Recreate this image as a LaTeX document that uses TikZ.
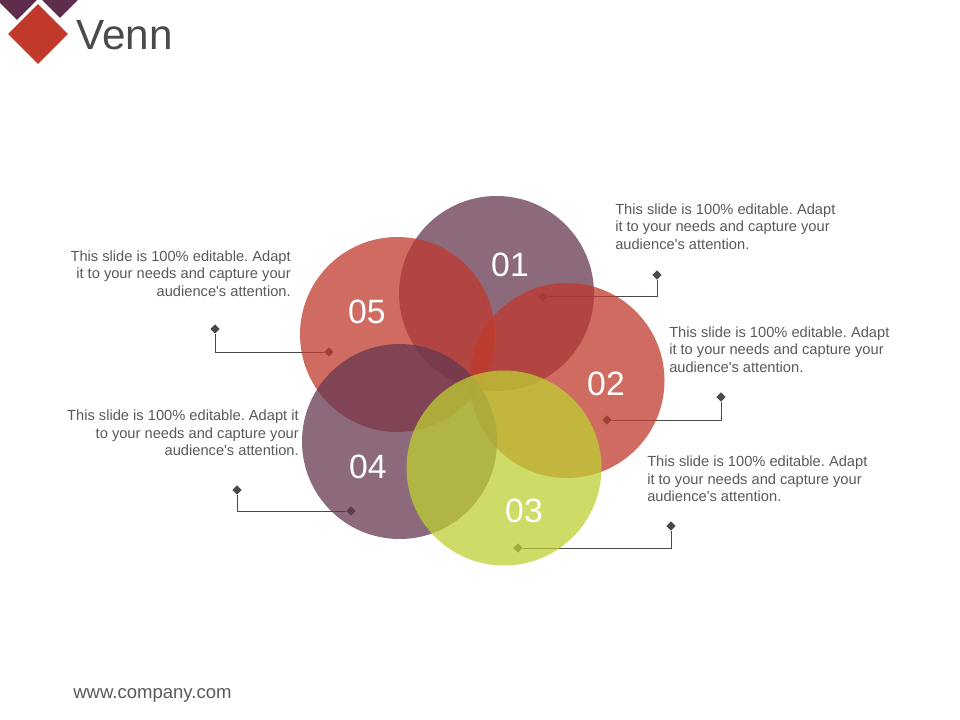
\documentclass[tikz,border=0pt]{standalone}
\usepackage{fontspec}
\setmainfont{Liberation Sans}
\usetikzlibrary{shapes.geometric}

\definecolor{plum}{HTML}{663850}
\definecolor{brick}{HTML}{C03A2E}
\definecolor{lime}{HTML}{BECF33}
\definecolor{ink}{HTML}{4A4A4A}
\definecolor{tipgray}{HTML}{4A4A4A}
\definecolor{blurbgray}{HTML}{595959}
\definecolor{logored}{HTML}{C0392B}
\definecolor{logoplum}{HTML}{5E2D4C}

\tikzset{
  petal/.style={
    circle,fill=#1,fill opacity=0.75,minimum size=146.25pt,inner sep=0pt,
  },
  num/.style={
    text=white,font=\fontsize{25.3}{25.3}\selectfont,inner sep=0pt,
  },
  blurb/.style={
    text=blurbgray,inner sep=0pt,font=\frenchspacing\fontsize{11}{13.1}\selectfont,
  },
  tip/.style={
    diamond,aspect=1,fill=tipgray,minimum size=7pt,inner sep=0pt,outer sep=0pt,
  },
  leader/.style={
    draw=ink,line width=0.75pt,
  },
  logo/.style={
    diamond,aspect=1,fill=#1,minimum size=45pt,inner sep=0pt,
  }
}

\begin{document}
\begin{tikzpicture}[x=0.75pt,y=-0.75pt]
    \useasboundingbox (0,0) rectangle (960,720);

    \node[logo=logoplum] (logoa) at (17,-10) {};
    \node[logo=logoplum] (logob) at (60,-12) {};
    \node[logo=logored,draw=white,line width=0.75pt,minimum size=46.5pt] (logoc) at (38,34) {};
    \node[anchor=west,inner sep=0pt,text=ink,font=\fontsize{31.7}{31.7}\selectfont] (title) at (76,35) {Venn};

    \node[tip] (in1)  at (543,297) {};
    \node[tip] (out1) at (657,275) {};
    \node[tip] (in2)  at (607,420) {};
    \node[tip] (out2) at (721,397) {};
    \node[tip] (in3)  at (518,548) {};
    \node[tip] (out3) at (671,526) {};
    \node[tip] (in4)  at (351,511) {};
    \node[tip] (out4) at (237,490) {};
    \node[tip] (in5)  at (329,352) {};
    \node[tip] (out5) at (215,329) {};

    \draw[leader] (in1) -| (out1);
    \draw[leader] (in2) -| (out2);
    \draw[leader] (in3) -| (out3);
    \draw[leader] (in4) -| (out4);
    \draw[leader] (in5) -| (out5);

    \node[petal=plum]  (c1) at (496.5,293.5) {};
    \node[petal=brick] (c5) at (397.5,334.5) {};
    \node[petal=brick] (c2) at (567,380.5) {};
    \node[petal=plum]  (c4) at (399.5,441.5) {};
    \node[petal=lime]  (c3) at (504,468) {};

    \node[num] (n1) at (510,265) {01};
    \node[num] (n2) at (606,384) {02};
    \node[num] (n3) at (524,511) {03};
    \node[num] (n4) at (368,467) {04};
    \node[num] (n5) at (367,312) {05};

    \node[blurb,anchor=west,align=left] (t1) at (615,226.5)
      {This slide is 100\% editable. Adapt\\it to your needs and capture your\\audience\textquotesingle s attention.};
    \node[blurb,anchor=west,align=left] (t2) at (669,349.5)
      {This slide is 100\% editable. Adapt\\it to your needs and capture your\\audience\textquotesingle s attention.};
    \node[blurb,anchor=west,align=left] (t3) at (647,479)
      {This slide is 100\% editable. Adapt\\it to your needs and capture your\\audience\textquotesingle s attention.};
    \node[blurb,anchor=east,align=right] (t4) at (299,433)
      {This slide is 100\% editable. Adapt it\\to your needs and capture your\\audience\textquotesingle s attention.};
    \node[blurb,anchor=east,align=right] (t5) at (291,273.5)
      {This slide is 100\% editable. Adapt\\it to your needs and capture your\\audience\textquotesingle s attention.};

    \node[anchor=west,inner sep=0pt,text=blurbgray,font=\fontsize{13.9}{13.9}\selectfont] (web) at (73,695) {www.company.com};
\end{tikzpicture}
\end{document}
